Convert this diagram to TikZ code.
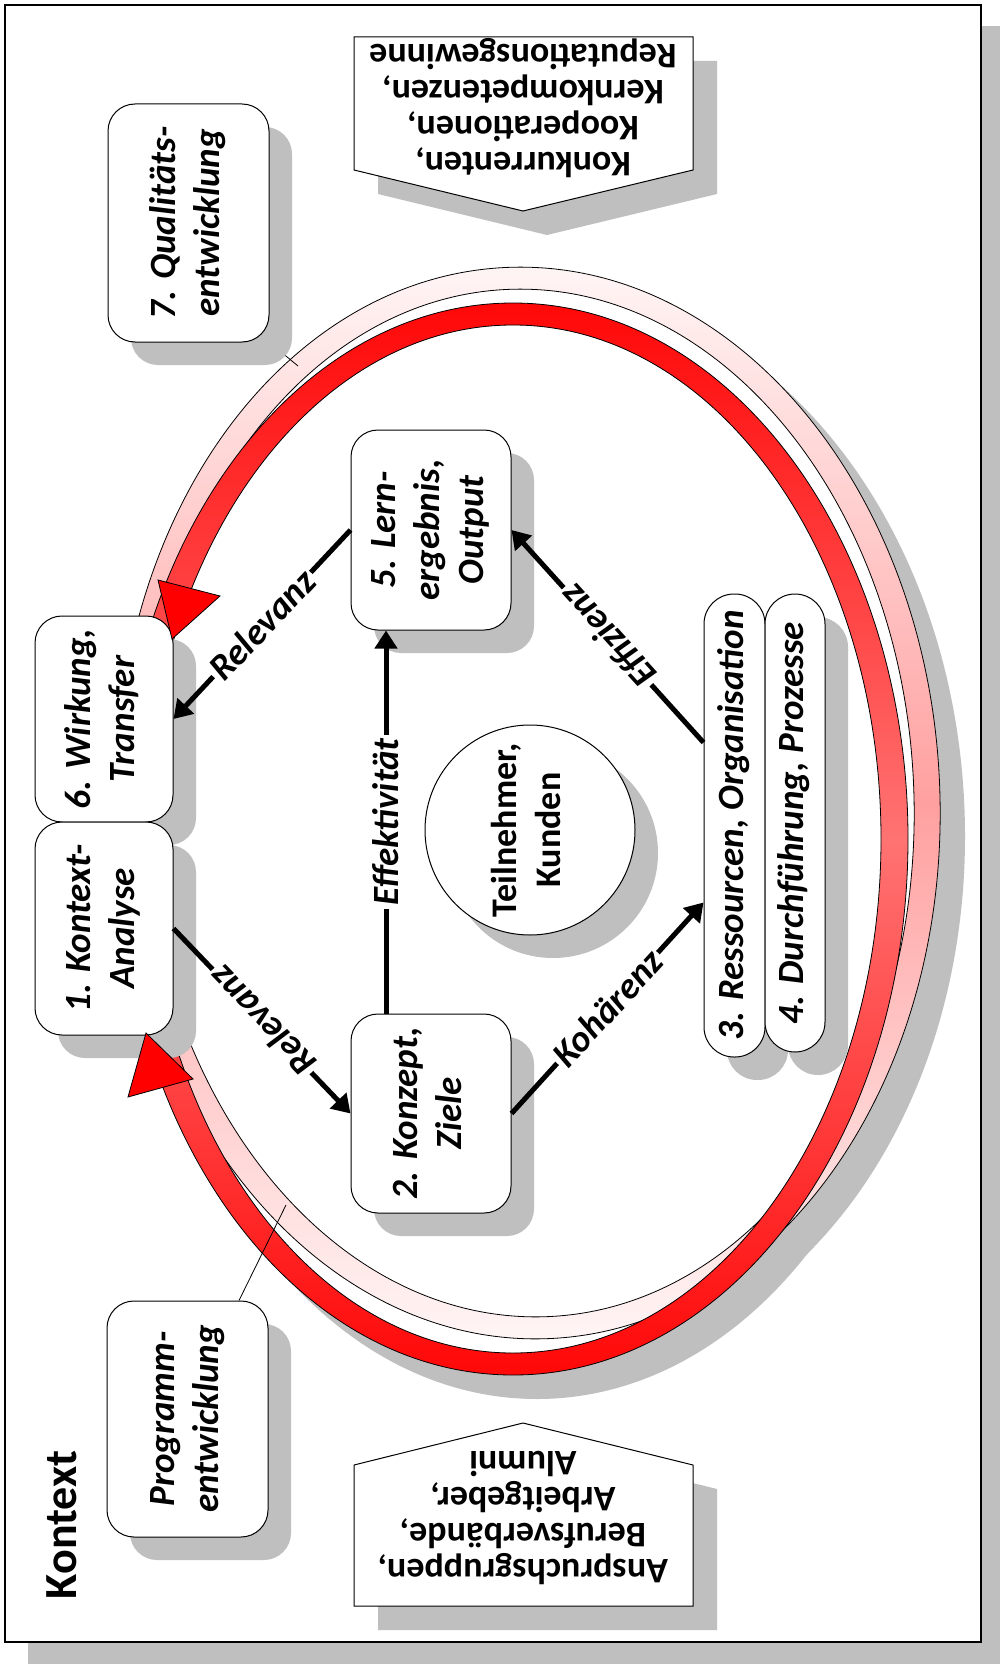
\documentclass[tikz,border=0pt]{standalone}
\usepackage{fontspec}
\setmainfont{Carlito}
\usetikzlibrary{
	calc,
	arrows.meta,
	shadows}

\definecolor{shadowgray}{RGB}{191,191,191}
\definecolor{ringred}{RGB}{255,8,8}
\definecolor{ringredmid}{RGB}{255,115,115}
\definecolor{ringpink}{RGB}{255,246,246}
\definecolor{ringpinkmid}{RGB}{255,160,160}

\newcommand{\vtext}[1]{\rotatebox{90}{\begin{tabular}{@{}c@{}}#1\end{tabular}}}

\begin{document}
\begin{tikzpicture}[x=0.5pt, y=-0.5pt]
		\tikzstyle{box}=[draw, fill=white, line width=0.5pt, rounded corners=13.5pt,
						inner sep=0pt,
						font=\fontsize{18.5}{22}\selectfont\bfseries\itshape,
						drop shadow={shadow xshift=11.5pt, shadow yshift=-11.5pt,
									 fill=shadowgray, opacity=1}]
		\tikzstyle{arr}=[line width=2.5pt, -{Triangle[length=9pt, width=11pt]}]
		\tikzstyle{lbl}=[fill=white, inner sep=1.5pt,
						 font=\fontsize{18.5}{20}\selectfont\bfseries\itshape]
		\tikzstyle{sign}=[draw, fill=white, line width=0.5pt]

		\useasboundingbox (0,0) rectangle (1000,1664);

		% frame
		\fill[shadowgray] (28,26) rectangle (1000,1664);
		\draw[fill=white, line width=0.6pt] (5,5) rectangle (981,1642);

		% rings
		\foreach \cx/\cy/\ra/\rot in {528/803/206pt/2, 513/839/197.5pt/0}
			\fill[shadowgray, rotate around={\rot:(\cx,\cy)}] ({\cx+24},{\cy+24}) ellipse [x radius=\ra, y radius=268pt];
		\foreach \cx/\cy/\ra/\rot in {528/803/206pt/2, 513/839/197.5pt/0}
			\fill[white, rotate around={\rot:(\cx,\cy)}] (\cx,\cy) ellipse [x radius=\ra, y radius=268pt];
		\foreach \cx/\cy/\ra/\ia/\rot/\ct/\cm in {528/803/206pt/193pt/2/ringpink/ringpinkmid,
												  513/839/197.5pt/184pt/0/ringred/ringredmid}
			\shadedraw[even odd rule, line width=0.4pt, rotate around={\rot:(\cx,\cy)},
					   top color=\ct, bottom color=\ct, middle color=\cm]
				(\cx,\cy) ellipse [x radius=\ra, y radius=268pt]
				(\cx,\cy) ellipse [x radius=\ia, y radius=257pt];

		% leader ends on the ring
		\coordinate (qualring) at (298,366);
		\coordinate (progring) at (286,1205);

		% signs
		\fill[shadowgray, shift={(24,24)}] (354,37) -- (693,37) -- (693,170) -- (523,211) -- (354,170) -- cycle;
		\draw[sign] (354,37) -- (693,37) -- (693,170) -- (523,211) -- (354,170) -- cycle;
		\node[rotate=180, align=center, inner sep=0pt,
			  font=\fontsize{18}{18}\selectfont\bfseries] (konk) at (523,108)
			{Konkurrenten,\\Kooperationen,\\Kernkompetenzen,\\Reputationsgewinne};

		\fill[shadowgray, shift={(24,24)}] (354,1606) -- (693,1606) -- (693,1465) -- (523,1423) -- (354,1465) -- cycle;
		\draw[sign] (354,1606) -- (693,1606) -- (693,1465) -- (523,1423) -- (354,1465) -- cycle;
		\node[rotate=180, align=center, inner sep=0pt,
			  font=\fontsize{18}{18}\selectfont\bfseries] (ansp) at (523,1518)
			{Anspruchsgruppen,\\Berufsverbände,\\Arbeitgeber,\\Alumni};

		% outer boxes
		\draw[line width=0.4pt] (188.5,223) ++(40.25pt,-59.5pt) -- (qualring);
		\node[box, minimum width=80.5pt, minimum height=119pt] (qual) at (188.5,223)
			{\vtext{7. Qualitäts-\\entwicklung}};
		\node[box, minimum width=80.5pt, minimum height=118pt] (prog) at (187.5,1419)
			{\vtext{Programm-\\entwicklung}};
		\draw[line width=0.4pt] ([xshift=25.75pt]prog.north) -- (progring);

		% cycle boxes
		\node[box, minimum width=69pt, minimum height=103pt] (wt) at (104,719)
			{\vtext{6. Wirkung,\\Transfer}};
		\node[box, minimum width=69pt, minimum height=106.5pt] (ka) at (104,928.5)
			{\vtext{1. Kontext-\\Analyse}};
		\node[box, minimum width=80pt, minimum height=100pt] (le) at (431,530)
			{\vtext{5. Lern-\\ergebnis,\\Output}};
		\node[box, minimum width=80pt, minimum height=99.5pt] (kz) at (431,1113.5)
			{\vtext{2. Konzept,\\Ziele}};
		\node[box, rounded corners=15pt, minimum width=30.5pt, minimum height=231.5pt] (res) at (734.5,825.5)
			{\vtext{3. Ressourcen, Organisation}};
		\node[box, rounded corners=15pt, minimum width=30pt, minimum height=229pt] (pro) at (795,823)
			{\vtext{4. Durchführung, Prozesse}};

		% centre
		\node[circle, draw, fill=white, line width=0.5pt, minimum size=105pt, inner sep=0pt,
			  font=\fontsize{18}{22}\selectfont\bfseries,
			  drop shadow={shadow xshift=11.5pt, shadow yshift=-11.5pt, fill=shadowgray, opacity=1}]
			(tn) at (530,830) {\vtext{Teilnehmer,\\Kunden}};

		% edges
		\draw[arr] (ka.east) -- node[lbl, rotate=133.9] (rel1) {Relevanz} (kz.west);
		\draw[arr] (le.west) -- node[lbl, rotate=46.7] (rel2) {Relevanz} (wt.east);
		\draw[arr] ([xshift=-22.5pt]kz.north) -- node[lbl, rotate=90] (effk) {Effektivität} ([xshift=-22.5pt]le.south);
		\draw[arr] (kz.east) -- node[lbl, rotate=47.6] (koh) {Kohärenz} ([yshift=-38.5pt]res.west);
		\draw[arr] ([yshift=41.5pt]res.west) -- node[lbl, rotate=132.3] (effz) {Effizienz} (le.east);

		% ring arrow heads
		\draw[fill=red, line width=0.4pt] (158,580) -- (220,596) -- (172,639) -- cycle;
		\draw[fill=red, line width=0.4pt] (146,1033) -- (193,1079) -- (128,1097) -- cycle;

		\node[rotate=90, inner sep=0pt, font=\fontsize{23}{26}\selectfont\bfseries] (kontext) at (61.5,1525) {Kontext};
\end{tikzpicture}
\end{document}
